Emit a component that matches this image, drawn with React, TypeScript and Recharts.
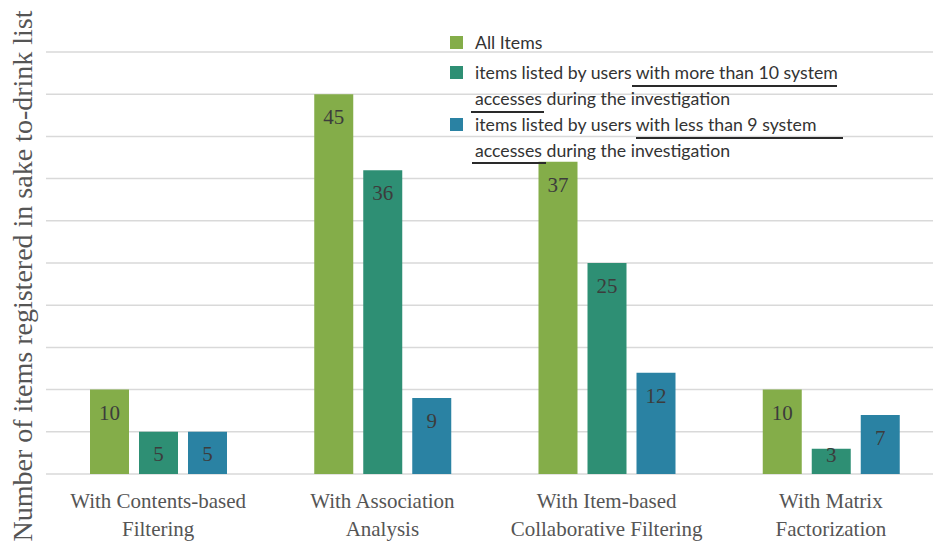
import React from 'react';
import { BarChart, Bar, XAxis, YAxis, CartesianGrid, Legend, LabelList } from 'recharts';

const categories = [
  'With Contents-based\nFiltering',
  'With Association\nAnalysis',
  'With Item-based\nCollaborative Filtering',
  'With Matrix\nFactorization',
];
const allItems = [10, 45, 37, 10];
const moreThan10 = [5, 36, 25, 3];
const lessThan9 = [5, 9, 12, 7];
const yTicks = [0, 5, 10, 15, 20, 25, 30, 35, 40, 45, 50];
const seriesNames = [
  'All Items',
  'items listed by users with more than 10 system\naccesses during the investigation',
  'items listed by users with less than 9 system\naccesses during the investigation',
];
const colors = ['#84ad49', '#2e8f74', '#2a82a3'];
const yLabel = 'Number of items registered in sake to-drink list';

const data = categories.map((c, i) => ({
  name: c,
  all: allItems[i],
  more: moreThan10[i],
  less: lessThan9[i],
}));

const serif = '"Liberation Serif", "DejaVu Serif", serif';

const XTick = (props: any) => {
  const { x, y, payload } = props;
  const lines = String(payload.value).split('\n');
  return (
    <g transform={`translate(${x},${y})`}>
      {lines.map((l: string, i: number) => (
        <text key={i} x={0} y={19 + i * 28} textAnchor="middle" dominantBaseline="central" fontFamily={serif} fontSize={21} fill="#555">
          {l}
        </text>
      ))}
    </g>
  );
};

const BarLabel = (props: any) => {
  const { x, y, width, height, value } = props;
  const off = Math.min(23, Math.max(height - 20, 6));
  return (
    <text x={x + width / 2} y={y + off} textAnchor="middle" dominantBaseline="central" fontFamily={serif} fontSize={21} fill="#3c3c3c">
      {value}
    </text>
  );
};

const underlines = [
  { left: 185, top: 55, width: 205 },
  { left: 24, top: 81, width: 73 },
  { left: 189, top: 107, width: 207 },
  { left: 25, top: 132, width: 74 },
];

const LegendContent = () => (
  <div style={{ position: 'relative', height: 0, width: 0, overflow: 'visible' }}>
    <div style={{ position: 'absolute', left: 0, top: 0, width: 440, fontFamily: 'Lato, "Open Sans", sans-serif', fontSize: 17.7, color: '#333', textAlign: 'left' }}>
      {seriesNames.map((n, i) => (
        <div key={i} style={{ display: 'flex', alignItems: 'flex-start', marginBottom: i === 0 ? 4 : 0 }}>
          <div style={{ width: 13, height: 13, background: colors[i], marginTop: 6, marginLeft: 3, marginRight: 12, flex: 'none' }} />
          <div style={{ whiteSpace: 'pre-line', lineHeight: '26px' }}>{n}</div>
        </div>
      ))}
      {underlines.map((u, i) => (
        <div key={'u' + i} style={{ position: 'absolute', left: u.left, top: u.top, width: u.width, height: 2, background: '#2a2a2a' }} />
      ))}
    </div>
  </div>
);

export default function App() {
  return (
    <div style={{ position: 'absolute', left: 0, top: 0, width: 933, height: 545, overflow: 'hidden', background: '#fff' }}>
      <BarChart width={945} height={545} data={data} margin={{ top: 52, right: 2, bottom: 0, left: 46 }} barSize={39} barGap={10}>
        <CartesianGrid vertical={false} stroke="#d9d9d9" strokeWidth={1.5} />
        <YAxis hide domain={[0, 50]} ticks={yTicks} />
        <XAxis dataKey="name" axisLine={false} tickLine={false} height={71} tick={<XTick />} interval={0} />
        <Legend content={<LegendContent />} wrapperStyle={{ position: 'absolute', left: 447, top: 30, width: 0, height: 0 }} />
        <Bar dataKey="all" name={seriesNames[0]} fill={colors[0]} isAnimationActive={false}>
          <LabelList dataKey="all" content={<BarLabel />} />
        </Bar>
        <Bar dataKey="more" name={seriesNames[1]} fill={colors[1]} isAnimationActive={false}>
          <LabelList dataKey="more" content={<BarLabel />} />
        </Bar>
        <Bar dataKey="less" name={seriesNames[2]} fill={colors[2]} isAnimationActive={false}>
          <LabelList dataKey="less" content={<BarLabel />} />
        </Bar>
        <text x={22} y={276} transform="rotate(-90 22 276)" textAnchor="middle" dominantBaseline="central" fontFamily={serif} fontSize={28} fill="#555">
          {yLabel}
        </text>
      </BarChart>
    </div>
  );
}
